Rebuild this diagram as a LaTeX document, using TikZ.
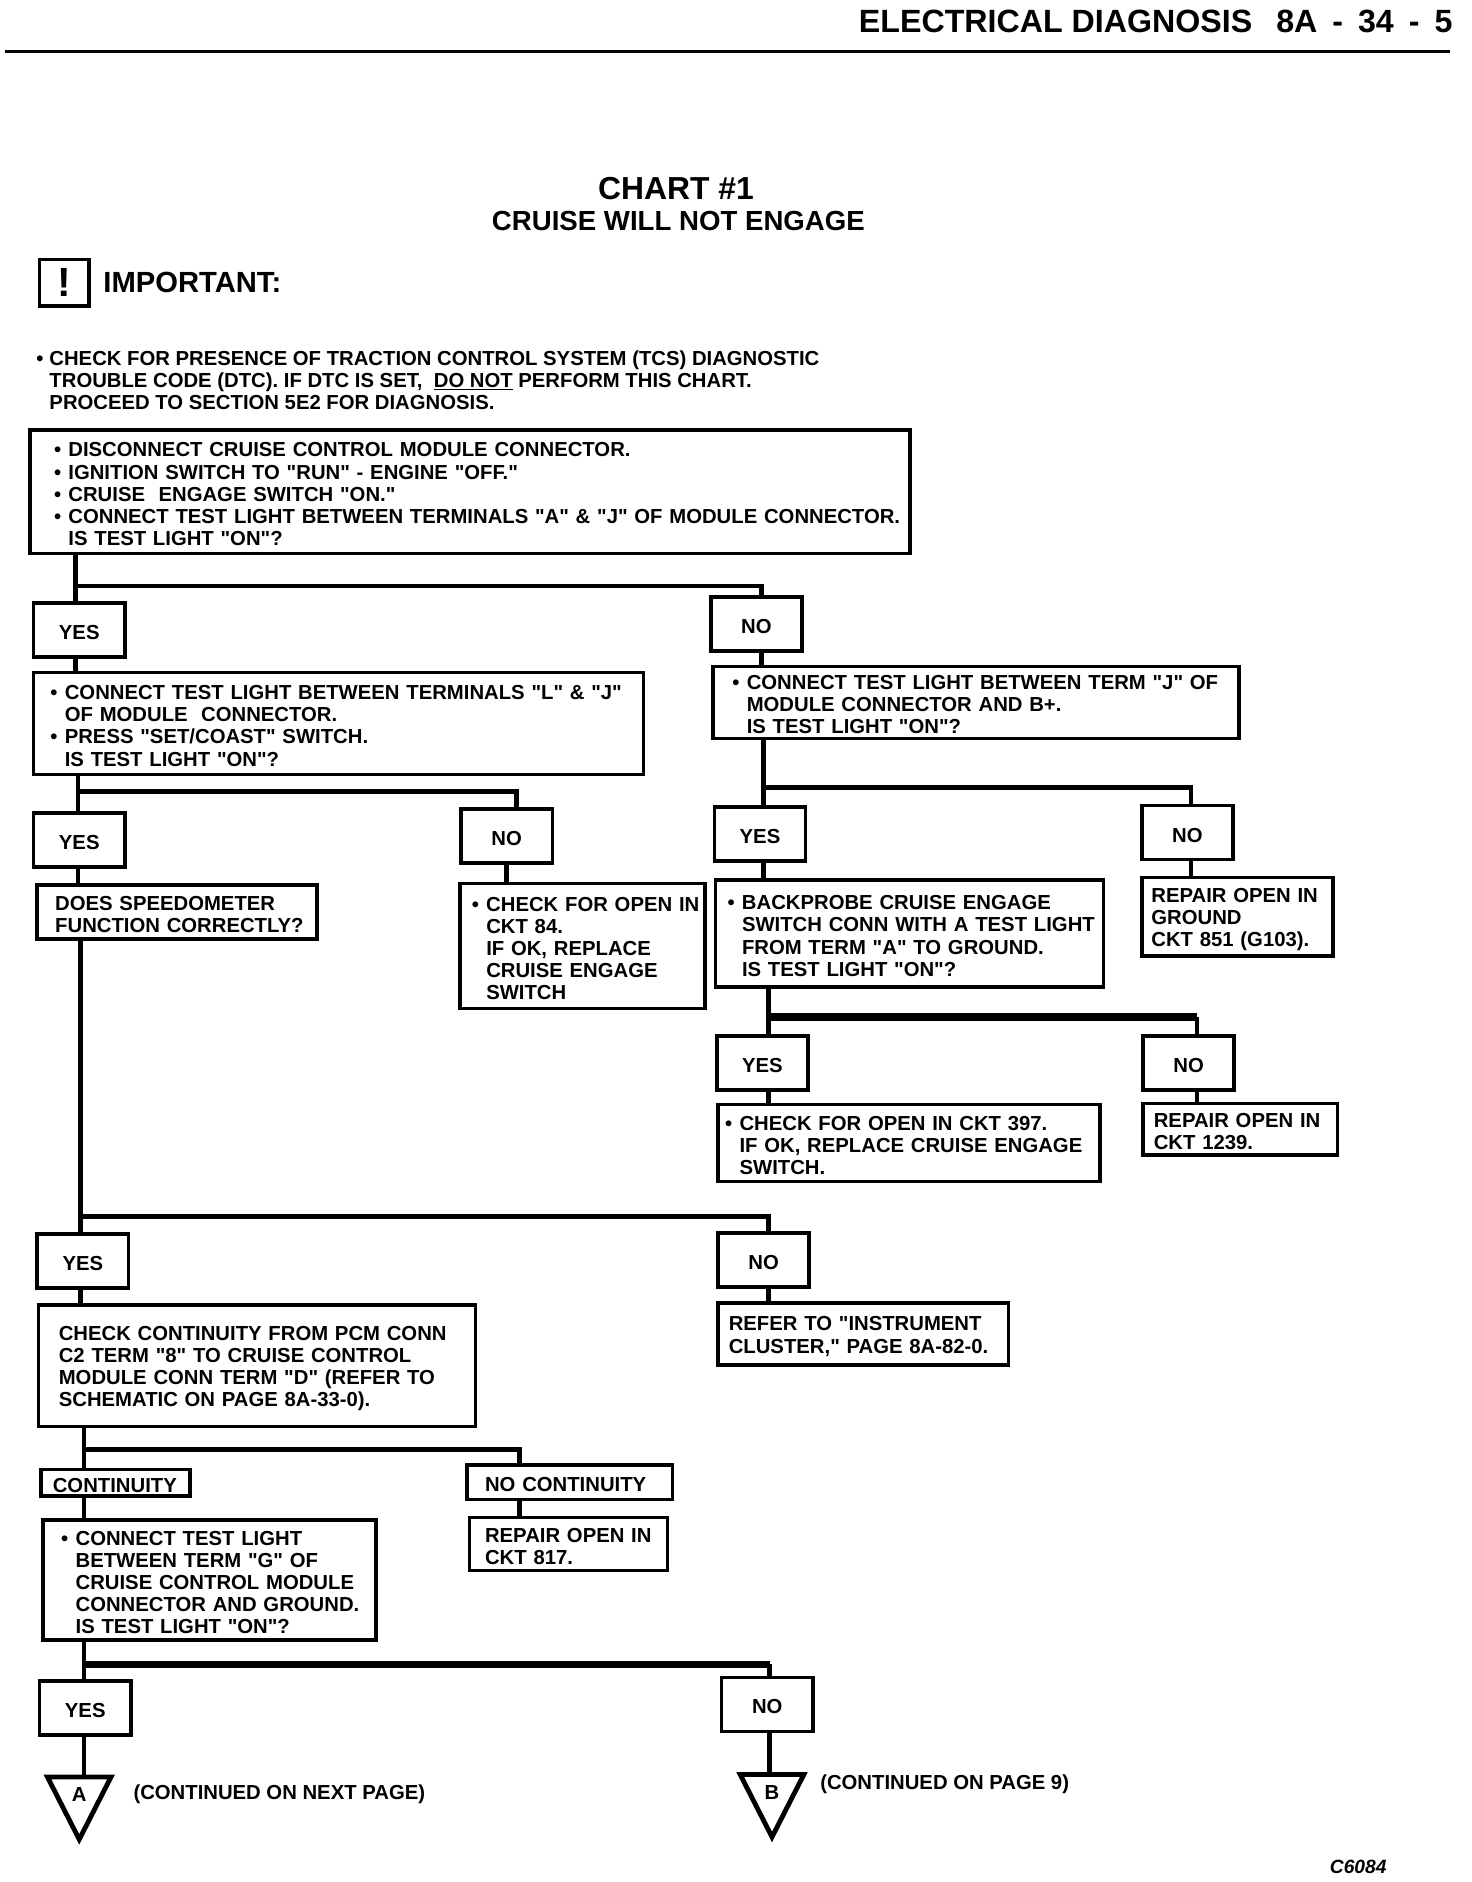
\documentclass[tikz,border=0pt]{standalone}
\usepackage{fontspec}
\setmainfont{Liberation Sans}[Ligatures=TeXOff]
\usetikzlibrary{shapes.geometric,calc}
\newcommand{\bul}{\makebox[12pt][l]{\textbullet}}
\newcommand{\ind}{\hspace*{12pt}}
\tikzset{
    chartfont/.style={font=\fontsize{16.9}{18.4}\selectfont\bfseries},
    box/.style n args={3}{draw, line width=3pt, chartfont, anchor=north west, align=left, outer sep=0pt,
        inner sep=0pt, minimum width=#1, minimum height=#2, text width=#1,
        execute at begin node={\leftskip=#3\rule{0pt}{16pt}}},
    answer/.style={draw, line width=3pt, chartfont, anchor=north west, align=center, outer sep=0pt,
        inner sep=0pt, minimum width=76pt, minimum height=45pt, execute at begin node={\rule{0pt}{16pt}}},
    label/.style={chartfont, anchor=west, align=left, inner sep=0pt},
    wire/.style={line width=4pt},
    marker/.style={draw, line width=4pt, chartfont, isosceles triangle, isosceles triangle apex angle=54,
        shape border rotate=-90, inner sep=0pt, minimum height=52pt, anchor=lower side}
}
\begin{document}
\begin{tikzpicture}[x=1pt,y=-1pt]
    \useasboundingbox (0,0) rectangle (1226,1567.5);

    % Page header
    \node[label, anchor=east, font=\fontsize{26.8}{30}\selectfont\bfseries] (header) at (1210,18) {ELECTRICAL DIAGNOSIS\hspace{20pt}8A\hspace{12.5pt}-\hspace{12.5pt}34\hspace{12.5pt}-\hspace{12.5pt}5};
    \coordinate (ruleL) at (4,43);
    \coordinate (ruleR) at (1208,43);
    \draw[line width=3pt] (ruleL) -- (ruleR);

    % Title
    \node[label, anchor=center, font=\fontsize{26.5}{30}\selectfont\bfseries] (title) at (563,157) {CHART \#1};
    \node[label, anchor=center, font=\fontsize{23}{26}\selectfont\bfseries] (subtitle) at (565,184) {CRUISE WILL NOT ENGAGE};

    % Important note
    \node[draw, line width=3pt, anchor=north west, minimum width=41pt, minimum height=39pt, inner sep=0pt, outer sep=0pt,
        font=\fontsize{34}{34}\selectfont\bfseries] (warn) at (33,216) {!};
    \node[label, font=\fontsize{24.3}{26}\selectfont\bfseries] (important) at (86,235) {IMPORTANT:};
    \node[label] (note) at (30,317) {\makebox[11pt][l]{\textbullet}CHECK FOR PRESENCE OF TRACTION CONTROL SYSTEM (TCS) DIAGNOSTIC\\
        \hspace*{11pt}TROUBLE CODE (DTC). IF DTC IS SET,\ \ \underline{DO NOT} PERFORM THIS CHART.\\
        \hspace*{11pt}PROCEED TO SECTION 5E2 FOR DIAGNOSIS.};

    % Top question
    \node[box={733pt}{103pt}{20pt}] (disc) at (25,358) {\bul DISCONNECT CRUISE CONTROL MODULE CONNECTOR.\\
        \bul IGNITION SWITCH TO "RUN" - ENGINE "OFF."\\
        \bul CRUISE\ \ ENGAGE SWITCH "ON."\\
        \bul CONNECT TEST LIGHT BETWEEN TERMINALS "A" \& "J" OF MODULE CONNECTOR.\\
        \ind IS TEST LIGHT "ON"?};
    \node[answer] (yesA) at (28,502) {YES};
    \node[answer] (noA) at (592,497) {NO};
    \coordinate (jA) at (63,488);
    \coordinate (jAb) at (634,488);

    % Left branch
    \node[box={508pt}{85pt}{14pt}] (setcoast) at (28,560) {\bul CONNECT TEST LIGHT BETWEEN TERMINALS "L" \& "J"\\
        \ind OF MODULE\ \ CONNECTOR.\\
        \bul PRESS "SET/COAST" SWITCH.\\
        \ind IS TEST LIGHT "ON"?};
    \node[answer] (yesB) at (28,677) {YES};
    \node[answer] (noB) at (384,674) {NO};
    \coordinate (jB) at (65,659);
    \coordinate (jBb) at (430,659);
    \node[box={233pt}{45pt}{15pt}] (speedo) at (31,737) {DOES SPEEDOMETER\\FUNCTION CORRECTLY?};
    \node[box={204pt}{104pt}{10pt}] (openA) at (383,736) {\bul CHECK FOR OPEN IN\\
        \ind CKT 84.\\
        \ind IF OK, REPLACE\\
        \ind CRUISE ENGAGE\\
        \ind SWITCH};

    % Right branch
    \node[box={438pt}{60pt}{16pt}] (termJ) at (594,555) {\bul CONNECT TEST LIGHT BETWEEN TERM "J" OF\\
        \ind MODULE CONNECTOR AND B+.\\
        \ind IS TEST LIGHT "ON"?};
    \node[answer] (yesC) at (595,672) {YES};
    \node[answer] (noC) at (951,671) {NO};
    \coordinate (jC) at (636,656);
    \coordinate (jCb) at (992,656);
    \node[box={323pt}{89pt}{10pt}] (backprobe) at (596,733) {\bul BACKPROBE CRUISE ENGAGE\\
        \ind SWITCH CONN WITH A TEST LIGHT\\
        \ind FROM TERM "A" TO GROUND.\\
        \ind IS TEST LIGHT "ON"?};
    \node[box={159pt}{65pt}{8pt}] (repairA) at (951,731) {REPAIR OPEN IN\\GROUND\\CKT 851 (G103).};
    \node[answer] (yesD) at (597,863) {YES};
    \node[answer] (noD) at (952,863) {NO};
    \coordinate (jD) at (640,847);
    \coordinate (jDb) at (997,847);
    \node[box={318pt}{64pt}{6pt}] (openB) at (598,920) {\bul CHECK FOR OPEN IN CKT 397.\\
        \ind IF OK, REPLACE CRUISE ENGAGE\\
        \ind SWITCH.};
    \node[box={162pt}{43pt}{9pt}] (repairB) at (952,919) {REPAIR OPEN IN\\CKT 1239.};

    % Speedometer answers
    \node[answer] (yesE) at (31,1028) {YES};
    \node[answer] (noE) at (598,1027) {NO};
    \coordinate (jE) at (67,1013);
    \coordinate (jEb) at (640,1013);
    \node[box={364pt}{101pt}{17pt}] (pcm) at (32,1087) {CHECK CONTINUITY FROM PCM CONN\\
        C2 TERM "8" TO CRUISE CONTROL\\
        MODULE CONN TERM "D" (REFER TO\\
        SCHEMATIC ON PAGE 8A-33-0).};
    \node[box={242pt}{52pt}{9pt}] (cluster) at (598,1085) {REFER TO "INSTRUMENT\\CLUSTER," PAGE 8A-82-0.};

    % Continuity answers
    \node[box={124pt}{22pt}{10pt}] (cont) at (34,1224) {CONTINUITY};
    \node[box={171pt}{29pt}{15pt}] (nocont) at (389,1220) {NO CONTINUITY};
    \coordinate (jF) at (70,1207);
    \coordinate (jFb) at (433,1207);
    \node[box={277pt}{100pt}{15pt}] (gterm) at (36,1266) {\bul CONNECT TEST LIGHT\\
        \ind BETWEEN TERM "G" OF\\
        \ind CRUISE CONTROL MODULE\\
        \ind CONNECTOR AND GROUND.\\
        \ind IS TEST LIGHT "ON"?};
    \node[box={165pt}{44pt}{13pt}] (repairC) at (391,1264) {REPAIR OPEN IN\\CKT 817.};

    % Last answers
    \node[answer] (yesF) at (33,1400) {YES};
    \node[answer] (noF) at (601,1397) {NO};
    \coordinate (jG) at (70,1386);
    \coordinate (jGb) at (641,1386);
    \node[marker] (markA) at (66,1478) {A};
    \node[marker] (markB) at (643,1476) {B};
    \node[label] (contA) at (111,1494) {(CONTINUED ON NEXT PAGE)};
    \node[label] (contB) at (683,1486) {(CONTINUED ON PAGE 9)};
    \node[label, anchor=east, font=\fontsize{16}{18}\selectfont\bfseries\itshape] (code) at (1155,1555) {C6084};

    % Connectors
    \draw[wire] (disc.south -| jA) -- (yesA.north -| jA);
    \draw[wire] (jA) -- (jAb) -- (noA.north -| jAb);
    \draw[wire] (yesA.south -| jA) -- (setcoast.north -| jA);
    \draw[wire] (noA.south -| jAb) -- (termJ.north -| jAb);

    \draw[wire] (setcoast.south -| jB) -- (yesB.north -| jB);
    \draw[wire] (jB) -- (jBb) -- (noB.north -| jBb);
    \draw[wire] (yesB.south -| jB) -- (speedo.north -| jB);
    \draw[wire] (noB.south) -- (noB.south |- openA.north);

    \draw[wire] (termJ.south -| jC) -- (yesC.north -| jC);
    \draw[wire] (jC) -- (jCb) -- (noC.north -| jCb);
    \draw[wire] (yesC.south -| jC) -- (backprobe.north -| jC);
    \draw[wire] (noC.south -| jCb) -- (repairA.north -| jCb);

    \draw[wire] (backprobe.south -| jD) -- (yesD.north -| jD);
    \draw[wire, line width=6pt] (jD) -- (jDb);
    \draw[wire] (jDb) -- (noD.north -| jDb);
    \draw[wire] (yesD.south -| jD) -- (openB.north -| jD);
    \draw[wire] (noD.south -| jDb) -- (repairB.north -| jDb);

    \draw[wire] (speedo.south -| jE) -- (yesE.north -| jE);
    \draw[wire] (jE) -- (jEb) -- (noE.north -| jEb);
    \draw[wire] (yesE.south -| jE) -- (pcm.north -| jE);
    \draw[wire] (noE.south -| jEb) -- (cluster.north -| jEb);

    \draw[wire] (pcm.south -| jF) -- (cont.north -| jF);
    \draw[wire] (jF) -- (jFb) -- (nocont.north -| jFb);
    \draw[wire] (cont.south -| jF) -- (gterm.north -| jF);
    \draw[wire] (nocont.south -| jFb) -- (repairC.north -| jFb);

    \draw[wire] (gterm.south -| jG) -- (yesF.north -| jG);
    \draw[wire, line width=6pt] (jG) -- (jGb);
    \draw[wire] (jGb) -- (noF.north -| jGb);
    \draw[wire] (yesF.south -| jG) -- (markA.lower side -| jG);
    \draw[wire] (noF.south -| jGb) -- (markB.lower side -| jGb);
\end{tikzpicture}
\end{document}
